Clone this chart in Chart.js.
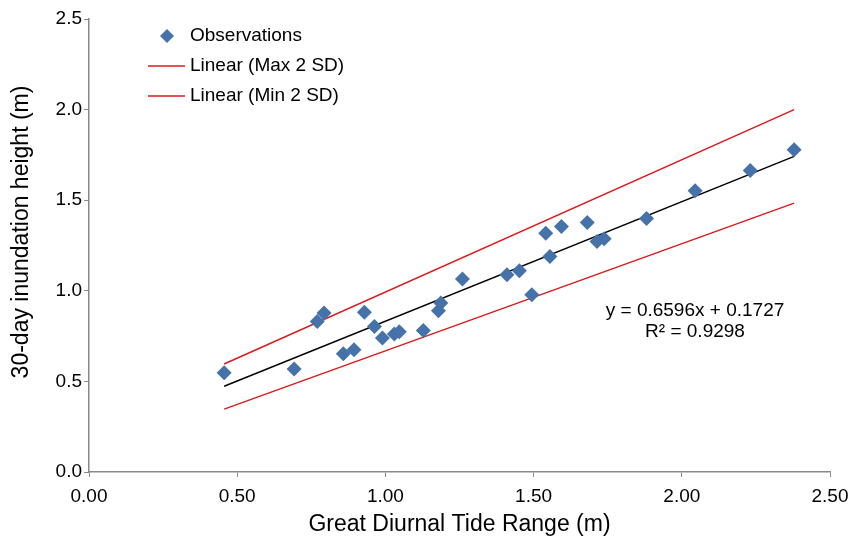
<!DOCTYPE html>
<html>
<head>
<meta charset="utf-8">
<script src="https://cdn.jsdelivr.net/npm/chart.js@4.4.1/dist/chart.umd.min.js"></script>
<style>
  html, body { margin: 0; padding: 0; background: #fff; }
  #wrap { width: 850px; height: 536px; }
</style>
</head>
<body>
<div id="wrap"><canvas id="scatterChart" width="850" height="536"></canvas></div>
<script>
// observations (great diurnal tide range vs 30-day inundation height)
const obsX = [0.456, 0.692, 0.770, 0.793, 0.858, 0.894, 0.929, 0.963, 0.990, 1.030,
              1.047, 1.128, 1.179, 1.187, 1.260, 1.410, 1.452, 1.494, 1.541, 1.555,
              1.594, 1.681, 1.714, 1.738, 1.881, 2.045, 2.231, 2.379];
const obsY = [0.548, 0.568, 0.831, 0.877, 0.652, 0.675, 0.882, 0.803, 0.739, 0.761,
              0.774, 0.781, 0.890, 0.932, 1.065, 1.088, 1.110, 0.978, 1.318, 1.189,
              1.355, 1.377, 1.272, 1.287, 1.399, 1.552, 1.664, 1.778];

// trend lines, end points
const lineX = [0.456, 2.379];
const fitY = [0.473, 1.742];
const maxY = [0.596, 2.000];
const minY = [0.347, 1.484];

const equationText = ["y = 0.6596x + 0.1727", "R\u00b2 = 0.9298"];
const legendLabels = ["Observations", "Linear (Max 2 SD)", "Linear (Min 2 SD)"];
const xTitle = "Great Diurnal Tide Range (m)";
const yTitle = "30-day inundation height (m)";

const blue = "#4672aa";
const red = "#dc1a1e";
const FONT = "'Liberation Sans', Arial, sans-serif";

function pts(xs, ys) {
    return xs.map((x, i) => ({ x: x, y: ys[i] }));
}

const overlay = {
    id: "overlay",
    afterDraw(chart) {
        const ctx = chart.ctx;
        const area = chart.chartArea;
        ctx.save();
        ctx.font = "19px " + FONT;
        ctx.fillStyle = "#000";
        ctx.textBaseline = "middle";

        // legend (top left inside plot)
        const lx = area.left + 59, tx = area.left + 101;
        const rows = [area.top + 17, area.top + 47, area.top + 77];
        ctx.fillStyle = blue;
        ctx.beginPath();
        ctx.moveTo(area.left + 78, rows[0] - 7);
        ctx.lineTo(area.left + 85, rows[0]);
        ctx.lineTo(area.left + 78, rows[0] + 7);
        ctx.lineTo(area.left + 71, rows[0]);
        ctx.closePath();
        ctx.fill();
        ctx.strokeStyle = red;
        ctx.lineWidth = 1.5;
        for (let i = 1; i < 3; i++) {
            ctx.beginPath();
            ctx.moveTo(lx, rows[i]);
            ctx.lineTo(lx + 37, rows[i]);
            ctx.stroke();
        }
        ctx.fillStyle = "#000";
        ctx.textAlign = "left";
        legendLabels.forEach((t, i) => ctx.fillText(t, tx, rows[i]));

        // regression equation
        ctx.textAlign = "center";
        ctx.fillText(equationText[0], area.left + 606, area.top + 292);
        ctx.fillText(equationText[1], area.left + 606, area.top + 313);

        // y axis title
        ctx.font = "23px " + FONT;
        ctx.translate(22, area.top + 213);
        ctx.rotate(-Math.PI / 2);
        ctx.fillText(yTitle, 0, 0);
        ctx.restore();
    }
};

new Chart(document.getElementById("scatterChart"), {
    type: "scatter",
    data: {
        datasets: [
            {
                label: legendLabels[0],
                data: pts(obsX, obsY),
                pointStyle: "rectRot",
                pointRadius: 7.5,
                backgroundColor: blue,
                borderColor: blue,
                borderWidth: 0
            },
            {
                label: "fit",
                data: pts(lineX, fitY),
                showLine: true,
                pointRadius: 0,
                borderColor: "#000",
                borderWidth: 1.5
            },
            {
                label: legendLabels[1],
                data: pts(lineX, maxY),
                showLine: true,
                pointRadius: 0,
                borderColor: red,
                borderWidth: 1.5
            },
            {
                label: legendLabels[2],
                data: pts(lineX, minY),
                showLine: true,
                pointRadius: 0,
                borderColor: red,
                borderWidth: 1.5
            }
        ]
    },
    options: {
        responsive: false,
        animation: false,
        layout: { padding: { top: 19, right: 20, bottom: 0, left: 0 } },
        plugins: {
            legend: { display: false },
            tooltip: { enabled: false }
        },
        scales: {
            x: {
                type: "linear",
                min: 0,
                max: 2.5,
                afterFit(scale) {
                    scale.height = 64;
                    scale.paddingLeft = 0;
                    scale.paddingRight = 0;
                },
                ticks: {
                    stepSize: 0.5,
                    padding: 8,
                    color: "#000",
                    font: { family: FONT, size: 19 },
                    callback: v => v.toFixed(2)
                },
                grid: { drawOnChartArea: false, drawTicks: true, tickLength: 5, color: "#898989" },
                border: { color: "#898989", width: 1.5 },
                title: {
                    display: true,
                    text: xTitle,
                    color: "#000",
                    font: { family: FONT, size: 23, lineHeight: 1 },
                    padding: { top: 0, bottom: 0 }
                }
            },
            y: {
                type: "linear",
                min: 0,
                max: 2.5,
                afterFit(scale) {
                    scale.width = 89;
                    scale.paddingTop = 0;
                    scale.paddingBottom = 0;
                },
                ticks: {
                    stepSize: 0.5,
                    padding: 2,
                    color: "#000",
                    font: { family: FONT, size: 19 },
                    callback: v => v.toFixed(1)
                },
                grid: { drawOnChartArea: false, drawTicks: true, tickLength: 5, color: "#898989" },
                border: { color: "#898989", width: 1.5 }
            }
        }
    },
    plugins: [overlay]
});
</script>
</body>
</html>
